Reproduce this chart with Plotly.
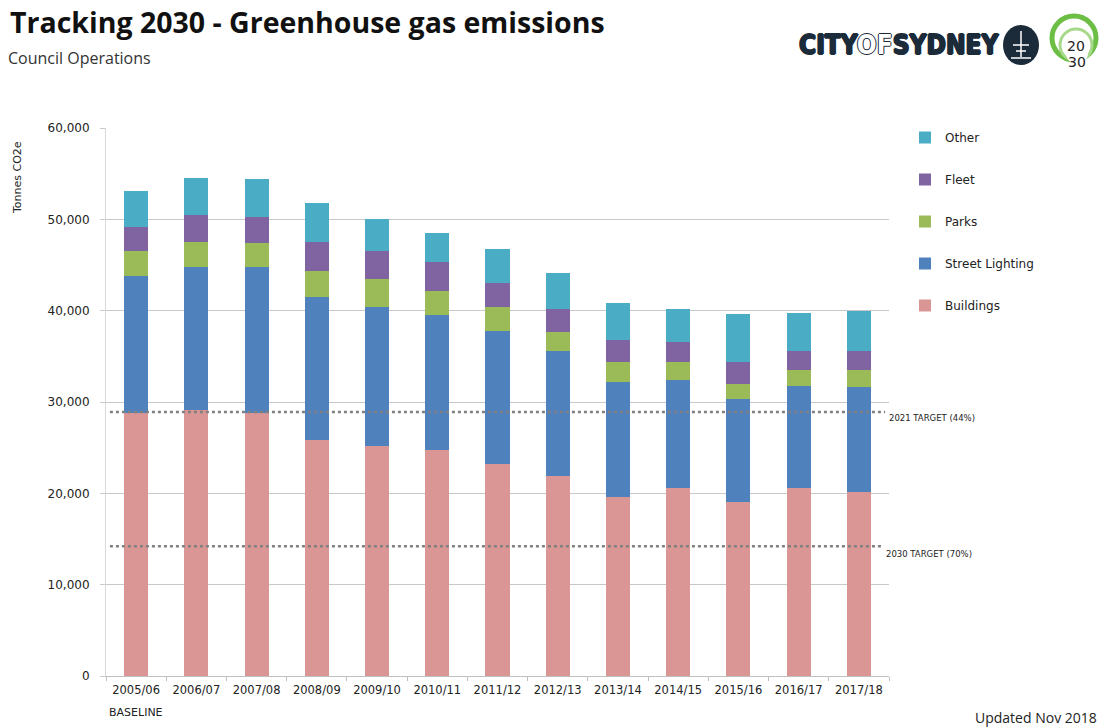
import plotly.graph_objects as go

# Financial years and emissions by source (tonnes CO2e)
years = ["2005/06", "2006/07", "2007/08", "2008/09", "2009/10", "2010/11", "2011/12",
         "2012/13", "2013/14", "2014/15", "2015/16", "2016/17", "2017/18"]
baseline_label = "BASELINE"

buildings = [28800, 29100, 28800, 25800, 25200, 24750, 23250, 21900, 19600, 20550, 19000, 20550, 20150]
street_lighting = [15050, 15650, 15950, 15650, 15250, 14800, 14500, 13700, 12600, 11900, 11350, 11200, 11450]
parks = [2650, 2800, 2650, 2850, 3000, 2550, 2650, 2100, 2200, 1950, 1650, 1700, 1850]
fleet = [2650, 2900, 2900, 3200, 3100, 3250, 2650, 2450, 2400, 2150, 2350, 2150, 2150]
other = [3900, 4100, 4150, 4300, 3450, 3150, 3750, 3950, 4000, 3650, 5250, 4100, 4350]

target_2021 = 28900
target_2030 = 14200
target_labels = ["2021 TARGET (44%)", "2030 TARGET (70%)"]

series = [
    ("Buildings", buildings, "#D99694"),
    ("Street Lighting", street_lighting, "#4F81BD"),
    ("Parks", parks, "#9BBB59"),
    ("Fleet", fleet, "#8064A2"),
    ("Other", other, "#4BACC6"),
]

W, H = 1107, 727
L, R, T, B = 106, 218, 128, 51
PW, PH = W - L - R, H - T - B


def px(x):
    """Pixel column -> paper x."""
    return (x - L) / PW


def py(y):
    """Pixel row -> paper y."""
    return (H - B - y) / PH


TXT = "DejaVu Sans, sans-serif"
HEAD = "Open Sans, sans-serif"

fig = go.Figure()
n = len(series)
for i, (name, vals, color) in enumerate(series):
    fig.add_trace(go.Bar(
        x=years, y=vals, name=name, legendgroup=name, legendrank=n - i,
        marker=dict(color=color, line=dict(width=0)),
    ))

# Dotted target lines drawn over the bars
for val, x_end, lbl, shift in [(target_2021, 0.995, target_labels[0], -6),
                               (target_2030, 0.992, target_labels[1], -8)]:
    fig.add_shape(type="line", xref="paper", yref="y", x0=0.005, x1=x_end, y0=val, y1=val,
                  line=dict(color="#808080", width=2.5, dash="dot"), layer="above")
    fig.add_annotation(xref="paper", yref="y", x=x_end + 0.002, y=val, yshift=shift,
                       text=lbl, showarrow=False, xanchor="left", yanchor="middle",
                       font=dict(family=TXT, size=8.5, color="#222222"))

# Baseline note under the first year
fig.add_annotation(xref="x", yref="paper", x=years[0], y=py(713), text=baseline_label,
                   showarrow=False, xanchor="center", yanchor="middle",
                   font=dict(family=TXT, size=11, color="#222222"))

# Headings
fig.add_annotation(xref="paper", yref="paper", x=px(8), y=py(1), xanchor="left", yanchor="top",
                   text="<b>Tracking 2030 - Greenhouse gas emissions</b>", showarrow=False,
                   font=dict(family=HEAD, size=28.5, color="#111111"))
fig.add_annotation(xref="paper", yref="paper", x=px(6), y=py(45), xanchor="left", yanchor="top",
                   text="Council Operations", showarrow=False,
                   font=dict(family=HEAD, size=16, color="#333333"))
fig.add_annotation(xref="paper", yref="paper", x=px(1099), y=py(717), xanchor="right", yanchor="middle",
                   text="Updated Nov 2018", showarrow=False,
                   font=dict(family=HEAD, size=14, color="#222222"))

# Axis title
fig.add_annotation(xref="paper", yref="paper", x=px(17), y=py(178), textangle=-90,
                   text="Tonnes CO2e", showarrow=False, xanchor="center", yanchor="middle",
                   font=dict(family=TXT, size=11, color="#222222"))

# City of Sydney wordmark
NAVY = "#1C2B39"
fig.add_annotation(xref="paper", yref="paper", x=px(1001), y=py(45), xanchor="right", yanchor="middle",
                   text="<b>CITY<span style='color:#ffffff'>OF</span>SYDNEY</b>", showarrow=False,
                   font=dict(family="Liberation Sans Narrow, DejaVu Sans Condensed, sans-serif",
                             size=26, color=NAVY,
                             shadow=f"1px 0 0 {NAVY}, -1px 0 0 {NAVY}, 0 1px 0 {NAVY}, 0 -1px 0 {NAVY}"))
fig.add_shape(type="circle", xref="paper", yref="paper", xsizemode="pixel", ysizemode="pixel",
              xanchor=px(1021), yanchor=py(45), x0=-18, x1=18, y0=-20, y1=20,
              fillcolor=NAVY, line=dict(width=0))
# fountain emblem
for (x0, y0, x1, y1) in [(0, 14, 0, -12), (-8, 0, 8, 0), (-5, -6, 5, -6), (-10, -13, 10, -13)]:
    fig.add_shape(type="line", xref="paper", yref="paper", xsizemode="pixel", ysizemode="pixel",
                  xanchor=px(1021), yanchor=py(45), x0=x0, x1=x1, y0=y0, y1=y1,
                  line=dict(color="#ffffff", width=1.5))

# Sustainable Sydney 2030 roundel
fig.add_shape(type="circle", xref="paper", yref="paper", xsizemode="pixel", ysizemode="pixel",
              xanchor=px(1074), yanchor=py(38), x0=-22, x1=22, y0=-22, y1=22,
              fillcolor="#ffffff", line=dict(color="#6CBE45", width=5))
fig.add_shape(type="circle", xref="paper", yref="paper", xsizemode="pixel", ysizemode="pixel",
              xanchor=px(1076), yanchor=py(45), x0=-16, x1=16, y0=-16, y1=16,
              fillcolor="#ffffff", line=dict(color="#A8D88A", width=3))
fig.add_shape(type="circle", xref="paper", yref="paper", xsizemode="pixel", ysizemode="pixel",
              xanchor=px(1077), yanchor=py(53), x0=-11, x1=11, y0=-11, y1=11,
              fillcolor="#ffffff", line=dict(width=0))
fig.add_annotation(xref="paper", yref="paper", x=px(1076), y=py(46), text="20", showarrow=False,
                   font=dict(family=TXT, size=14, color="#222222"), xanchor="center", yanchor="middle")
fig.add_annotation(xref="paper", yref="paper", x=px(1077), y=py(62), text="30", showarrow=False,
                   font=dict(family=TXT, size=14, color="#222222"), xanchor="center", yanchor="middle")

fig.update_layout(
    width=W, height=H, autosize=False,
    margin=dict(l=L, r=R, t=T, b=B, pad=0),
    paper_bgcolor="#ffffff", plot_bgcolor="#ffffff",
    barmode="stack", bargap=0.6,
    showlegend=True,
    legend=dict(x=px(905), y=py(123), xanchor="left", yanchor="top",
                traceorder="grouped", tracegroupgap=23,
                font=dict(family=TXT, size=12, color="#222222"),
                itemwidth=30, bgcolor="rgba(0,0,0,0)"),
    xaxis=dict(type="category", range=[-0.5, 12.5], tickson="boundaries", ticks="outside",
               ticklen=4, tickangle=0, automargin=False, ticklabelstandoff=3,
               tickcolor="#BFBFBF", showline=True, linecolor="#BFBFBF", linewidth=1,
               showgrid=False, tickfont=dict(family=TXT, size=11.5, color="#222222")),
    yaxis=dict(range=[0, 60000], dtick=10000, tickformat=",", ticks="outside", ticklen=5,
               automargin=False,
               tickcolor="#C8C8C8", showline=True, linecolor="#D9D9D9", linewidth=1,
               gridcolor="#C8C8C8", gridwidth=1, zeroline=False, ticklabelstandoff=8,
               tickfont=dict(family=TXT, size=12, color="#222222")),
)

fig.write_html("out.html")
